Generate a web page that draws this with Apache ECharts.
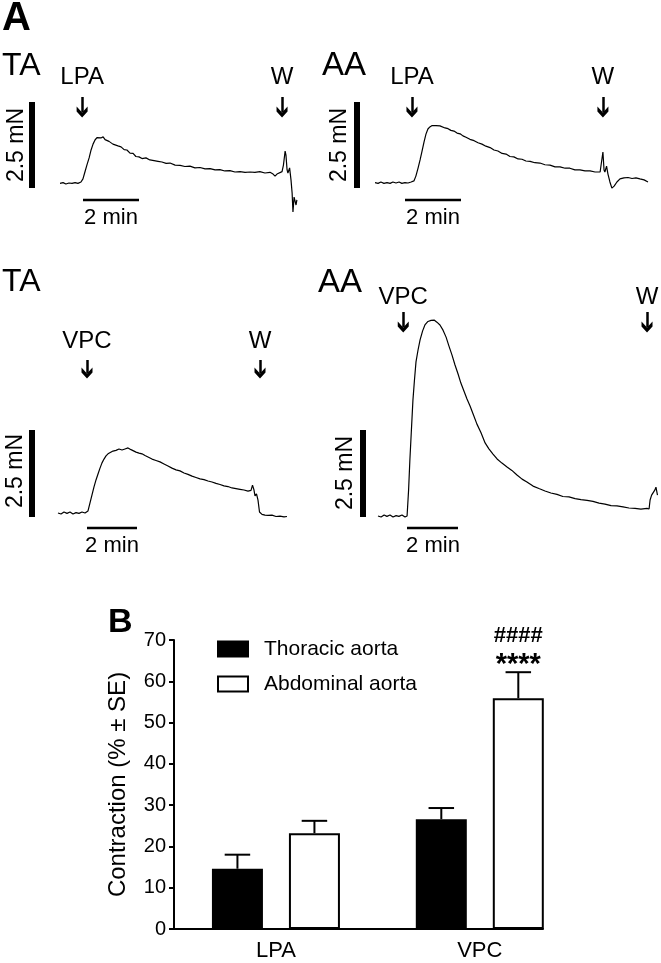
<!DOCTYPE html>
<html><head><meta charset="utf-8">
<script src="https://cdn.jsdelivr.net/npm/echarts@6/dist/echarts.min.js"></script>
<style>html,body{margin:0;padding:0;background:#fff}#c{width:661px;height:963px}</style>
</head><body><div id="c"></div>
<script>
// ================= DATA =================
// Panel A traces: [time (min), force (mN)] relative to trace start / baseline
const traceTA_LPA = [[0.00,-0.01],[0.11,0.01],[0.21,-0.03],[0.32,0.00],[0.43,-0.01],[0.54,0.01],[0.64,-0.01],[0.75,0.03],[0.82,0.12],[0.89,0.32],[0.96,0.52],[1.04,0.73],[1.11,0.96],[1.18,1.13],[1.25,1.25],[1.32,1.32],[1.39,1.35],[1.46,1.31],[1.54,1.34],[1.61,1.26],[1.68,1.28],[1.75,1.21],[1.82,1.22],[1.89,1.13],[1.96,1.15],[2.07,1.08],[2.18,1.05],[2.29,0.97],[2.39,0.96],[2.50,0.87],[2.61,0.86],[2.71,0.77],[2.82,0.76],[2.93,0.71],[3.07,0.73],[3.21,0.67],[3.36,0.65],[3.50,0.63],[3.64,0.61],[3.79,0.57],[3.93,0.58],[4.11,0.52],[4.29,0.51],[4.46,0.48],[4.64,0.49],[4.82,0.44],[5.00,0.45],[5.18,0.41],[5.36,0.42],[5.54,0.38],[5.71,0.39],[5.89,0.35],[6.07,0.36],[6.25,0.32],[6.43,0.33],[6.61,0.31],[6.79,0.32],[6.96,0.31],[7.14,0.33],[7.32,0.29],[7.50,0.31],[7.61,0.26],[7.68,0.20],[7.75,0.26],[7.82,0.31],[7.93,0.33],[7.98,0.52],[8.04,0.93],[8.07,0.81],[8.11,0.38],[8.14,0.29],[8.20,0.44],[8.25,0.09],[8.29,-0.29],[8.32,-0.84],[8.36,-0.41],[8.39,-0.38],[8.43,-0.64],[8.46,-0.49]];
const traceAA_LPA = [[0,0.01],[0.11,-0.01],[0.21,0.03],[0.32,-0.01],[0.43,0.01],[0.54,-0.01],[0.64,0.03],[0.75,0],[0.86,0.03],[0.96,-0.01],[1.07,0.01],[1.18,0],[1.29,0.03],[1.39,0.06],[1.46,0.20],[1.54,0.44],[1.61,0.67],[1.68,0.93],[1.75,1.19],[1.82,1.42],[1.89,1.57],[1.96,1.63],[2.04,1.67],[2.11,1.69],[2.18,1.67],[2.25,1.69],[2.32,1.66],[2.39,1.65],[2.50,1.60],[2.61,1.58],[2.71,1.53],[2.82,1.51],[2.93,1.45],[3.04,1.43],[3.14,1.37],[3.25,1.33],[3.39,1.27],[3.54,1.23],[3.68,1.17],[3.82,1.13],[3.96,1.07],[4.11,1.03],[4.25,0.96],[4.39,0.93],[4.54,0.86],[4.68,0.84],[4.82,0.77],[4.96,0.76],[5.11,0.70],[5.25,0.69],[5.39,0.64],[5.54,0.63],[5.71,0.59],[5.89,0.58],[6.07,0.53],[6.25,0.52],[6.43,0.47],[6.61,0.47],[6.79,0.43],[6.96,0.43],[7.14,0.38],[7.32,0.38],[7.50,0.35],[7.68,0.35],[7.86,0.32],[8.04,0.32],[8.11,0.35],[8.14,0.90],[8.18,0.38],[8.21,0.32],[8.27,0.49],[8.32,0.26],[8.39,0.03],[8.46,-0.15],[8.54,-0.09],[8.64,0.03],[8.75,0.12],[8.89,0.15],[9.04,0.16],[9.18,0.13],[9.32,0.15],[9.46,0.12],[9.61,0.09],[9.75,0.03]];
const traceTA_VPC = [[0,0],[0.12,-0.03],[0.24,0.03],[0.36,-0.01],[0.48,0.03],[0.60,-0.03],[0.72,0.01],[0.84,-0.01],[0.96,0.03],[1.08,0],[1.20,0.06],[1.28,0.29],[1.36,0.52],[1.44,0.75],[1.52,0.95],[1.60,1.12],[1.68,1.29],[1.76,1.44],[1.84,1.55],[1.92,1.64],[2.00,1.70],[2.08,1.74],[2.20,1.78],[2.32,1.80],[2.44,1.84],[2.56,1.81],[2.68,1.84],[2.80,1.87],[2.92,1.82],[3.00,1.81],[3.12,1.75],[3.24,1.72],[3.36,1.70],[3.48,1.65],[3.60,1.61],[3.76,1.55],[3.92,1.51],[4.08,1.47],[4.24,1.41],[4.40,1.35],[4.56,1.29],[4.72,1.24],[4.88,1.21],[5.04,1.15],[5.20,1.11],[5.36,1.06],[5.52,1.02],[5.68,0.98],[5.84,0.96],[6.00,0.92],[6.16,0.89],[6.32,0.85],[6.48,0.82],[6.64,0.78],[6.80,0.76],[6.96,0.72],[7.12,0.70],[7.28,0.68],[7.44,0.66],[7.60,0.63],[7.72,0.65],[7.78,0.80],[7.84,0.66],[7.88,0.49],[7.94,0.55],[8.00,0.37],[8.06,0.03],[8.16,-0.04],[8.28,-0.06],[8.40,-0.07],[8.56,-0.06],[8.72,-0.10],[8.88,-0.09],[9.04,-0.11],[9.16,-0.10]];
const traceAA_VPC = [[0,0],[0.12,-0.03],[0.24,0.03],[0.35,-0.01],[0.47,0.03],[0.59,-0.03],[0.71,0.01],[0.82,-0.01],[0.94,0.03],[1.06,-0.03],[1.14,0],[1.20,0.75],[1.25,1.61],[1.31,2.47],[1.37,3.33],[1.43,3.91],[1.49,4.43],[1.57,4.77],[1.65,5.06],[1.75,5.32],[1.84,5.49],[1.96,5.59],[2.08,5.62],[2.20,5.63],[2.31,5.57],[2.43,5.49],[2.55,5.34],[2.67,5.14],[2.78,4.89],[2.90,4.63],[3.02,4.34],[3.14,4.08],[3.25,3.82],[3.37,3.59],[3.49,3.36],[3.61,3.16],[3.73,2.93],[3.88,2.64],[4.04,2.39],[4.20,2.10],[4.35,1.93],[4.51,1.78],[4.67,1.64],[4.86,1.52],[5.06,1.41],[5.25,1.31],[5.45,1.18],[5.65,1.06],[5.84,0.98],[6.08,0.86],[6.31,0.79],[6.55,0.72],[6.78,0.66],[7.02,0.62],[7.25,0.56],[7.49,0.55],[7.73,0.50],[7.96,0.47],[8.20,0.45],[8.43,0.42],[8.67,0.37],[8.90,0.34],[9.14,0.30],[9.37,0.29],[9.61,0.26],[9.84,0.23],[10.08,0.22],[10.31,0.20],[10.55,0.22],[10.63,0.20],[10.67,0.46],[10.73,0.60],[10.78,0.55],[10.86,0.75],[10.90,0.83],[10.96,0.60]];

// drug additions (min)
const eventsTA_LPA = [{name:'LPA', t:0.79}, {name:'W', t:7.93}];
const eventsAA_LPA = [{name:'LPA', t:1.32}, {name:'W', t:8.14}];
const eventsTA_VPC = [{name:'VPC', t:1.16}, {name:'W', t:8.08}];
const eventsAA_VPC = [{name:'VPC', t:0.99}, {name:'W', t:10.55}];
const panelTitles = ['TA', 'AA', 'TA', 'AA'];
const scaleForce = 2.5;   // mN
const scaleTime = 2;      // min

// Panel B
const categories = ['LPA', 'VPC'];
const seriesNames = ['Thoracic aorta', 'Abdominal aorta'];
const thoracicMean = [14.6, 26.6];
const thoracicSE = [3.4, 2.7];
const abdominalMean = [23.2, 55.9];
const abdominalSE = [3.0, 6.3];
const abdominalHash = ['', '####'];
const abdominalStars = ['', '****'];

// ================= LAYOUT =================
const FONT = '"Liberation Sans", Arial, Helvetica, sans-serif';
const layouts = [
  {left:10, top:60, width:295, height:170, x0:60, y0:183, pxMin:28, pxMN:34.4, vBarX:32, vBarBottom:188, hBarY:200, hBarX:83, arrowTop:97, arrowEnd:112, labelY:77.5},
  {left:325, top:60, width:330, height:170, x0:375, y0:183, pxMin:28, pxMN:34.4, vBarX:357, vBarBottom:188, hBarY:200, hBarX:405, arrowTop:97, arrowEnd:112, labelY:77.5},
  {left:10, top:300, width:290, height:260, x0:58, y0:513, pxMin:25, pxMN:34.8, vBarX:32, vBarBottom:517, hBarY:528, hBarX:87, arrowTop:360, arrowEnd:373, labelY:341.5},
  {left:320, top:280, width:340, height:280, x0:378, y0:516, pxMin:25.5, pxMN:34.8, vBarX:363, vBarBottom:517, hBarY:528, hBarX:407, arrowTop:312, arrowEnd:327, labelY:297.5}
];
const traces = [traceTA_LPA, traceAA_LPA, traceTA_VPC, traceAA_VPC];
const eventSets = [eventsTA_LPA, eventsAA_LPA, eventsTA_VPC, eventsAA_VPC];
const CHEVRON = 'path://M5,0 L10,5.2 L10,9.6 L5,4.4 L0,9.6 L0,5.2 Z';

const grids = [], xAxes = [], yAxes = [], series = [];
layouts.forEach((L, i) => {
  grids.push({left:L.left, top:L.top, width:L.width, height:L.height});
  xAxes.push({type:'value', gridIndex:i, show:false, min:(L.left - L.x0) / L.pxMin, max:(L.left + L.width - L.x0) / L.pxMin});
  yAxes.push({type:'value', gridIndex:i, show:false, min:(L.y0 - L.top - L.height) / L.pxMN, max:(L.y0 - L.top) / L.pxMN});
  const tOf = px => (px - L.x0) / L.pxMin;
  const fOf = py => (L.y0 - py) / L.pxMN;
  series.push({
    type:'line', xAxisIndex:i, yAxisIndex:i, data:traces[i], symbol:'none', showSymbol:false,
    lineStyle:{color:'#000', width:1.2}, silent:true, animation:false, emphasis:{disabled:true},
    markLine:{
      silent:true, animation:false, symbol:['none', CHEVRON], symbolSize:11,
      lineStyle:{color:'#000', width:2.5, type:'solid'}, itemStyle:{color:'#000'}, label:{show:false}, emphasis:{disabled:true},
      data: eventSets[i].map(e => [{coord:[e.t, fOf(L.arrowTop)]}, {coord:[e.t, fOf(L.arrowEnd)]}])
    },
    markPoint:{
      silent:true, animation:false, symbol:'circle', symbolSize:1, itemStyle:{color:'rgba(0,0,0,0)'},
      label:{show:true, position:'inside', formatter:'{b}', color:'#000', fontSize:24, fontFamily:FONT},
      data: eventSets[i].map(e => ({name:e.name, coord:[e.t, fOf(L.labelY)]}))
    }
  });
  // scale bars
  const vx = tOf(L.vBarX), vb = fOf(L.vBarBottom);
  series.push({type:'line', xAxisIndex:i, yAxisIndex:i, symbol:'none', silent:true, animation:false,
    lineStyle:{color:'#000', width:6, cap:'butt'}, data:[[vx, vb], [vx, vb + scaleForce]]});
  const hx = tOf(L.hBarX), hy = fOf(L.hBarY);
  series.push({type:'line', xAxisIndex:i, yAxisIndex:i, symbol:'none', silent:true, animation:false,
    lineStyle:{color:'#000', width:2.5, cap:'butt'}, data:[[hx, hy], [hx + scaleTime, hy]]});
});

// Panel B
const BAR_W = 51, BAR_GAP = 26;
grids.push({left:174, top:640, width:369, height:289});
xAxes.push({type:'value', gridIndex:4, min:0, max:1.81, interval:0.5,
  axisLine:{show:true, onZero:false, lineStyle:{color:'#000', width:2}}, axisTick:{show:false}, splitLine:{show:false},
  axisLabel:{color:'#000', fontSize:22, fontFamily:FONT, margin:11, hideOverlap:false,
    formatter: v => { const k = Math.round(v - 0.5); return (Math.abs(v - (k + 0.5)) < 1e-6 && categories[k]) ? categories[k] : ''; }}});
yAxes.push({type:'value', gridIndex:4, min:0, max:70, interval:10,
  axisLine:{show:true, lineStyle:{color:'#000', width:2}},
  axisTick:{show:true, length:5, lineStyle:{color:'#000', width:2}}, splitLine:{show:false},
  axisLabel:{color:'#000', fontSize:20, fontFamily:FONT, margin:8},
  name:'Contraction (% ± SE)', nameLocation:'middle', nameRotate:90, nameGap:44,
  nameTextStyle:{color:'#000', fontSize:24, fontFamily:FONT}});
series.push({name:seriesNames[0], type:'bar', xAxisIndex:4, yAxisIndex:4, barWidth:BAR_W, barGap:(BAR_GAP / BAR_W * 100) + '%',
  data: thoracicMean.map((v, k) => [k + 0.5, v]), itemStyle:{color:'#000', borderColor:'#000', borderWidth:2}, silent:true, animation:false});
series.push({name:seriesNames[1], type:'bar', xAxisIndex:4, yAxisIndex:4, barWidth:BAR_W, barGap:(BAR_GAP / BAR_W * 100) + '%',
  data: abdominalMean.map((v, k) => [k + 0.5, v]), itemStyle:{color:'#fff', borderColor:'#000', borderWidth:2}, silent:true, animation:false});
const errData = [], errNotes = [];
categories.forEach((c, k) => {
  errData.push([k + 0.5, thoracicMean[k], thoracicSE[k], 0]); errNotes.push(['', '']);
  errData.push([k + 0.5, abdominalMean[k], abdominalSE[k], 1]); errNotes.push([abdominalHash[k], abdominalStars[k]]);
});
series.push({type:'custom', xAxisIndex:4, yAxisIndex:4, data:errData, encode:{x:0, y:1}, silent:true, animation:false, z:5, clip:false,
  renderItem:(params, api) => {
    const x = api.value(0), m = api.value(1), se = api.value(2), s = api.value(3);
    const base = api.coord([x, m]), top = api.coord([x, m + se]);
    const cx = base[0] + (s === 0 ? -1 : 1) * (BAR_W + BAR_GAP) / 2;
    const children = [
      {type:'line', shape:{x1:cx, y1:base[1], x2:cx, y2:top[1]}, style:{stroke:'#000', lineWidth:2}},
      {type:'line', shape:{x1:cx - BAR_W / 4, y1:top[1], x2:cx + BAR_W / 4, y2:top[1]}, style:{stroke:'#000', lineWidth:2}}
    ];
    const notes = errNotes[params.dataIndex];
    if (notes[0]) children.push({type:'text', style:{text:notes[0], x:cx, y:top[1] - 36, align:'center', verticalAlign:'middle', textAlign:'center', textVerticalAlign:'middle', fill:'#000', font:'bold 22px ' + FONT}});
    if (notes[1]) children.push({type:'text', style:{text:notes[1], x:cx, y:top[1] - 7, align:'center', verticalAlign:'middle', textAlign:'center', textVerticalAlign:'middle', fill:'#000', font:'bold 29px ' + FONT}});
    return {type:'group', children};
  }});

// Text annotations
const txt = (text, x, y, size, opts) => Object.assign({type:'text', x, y, silent:true, z:100,
  style:{text, fill:'#000', font:((opts && opts.bold) ? 'bold ' : '') + size + 'px ' + FONT,
    align:(opts && opts.align) || 'left', textAlign:(opts && opts.align) || 'left', verticalAlign:'middle', textVerticalAlign:'middle'}},
  (opts && opts.rot) ? {rotation:opts.rot} : {});
const graphics = [
  txt('A', 2, 19, 40, {bold:true}),
  txt(panelTitles[0], 2, 66, 32), txt(panelTitles[1], 322, 66, 33),
  txt(panelTitles[2], 2, 282, 32), txt(panelTitles[3], 318, 283, 33),
  txt('B', 108, 623, 34, {bold:true}),
  txt('2.5 mN', 16.5, 145, 23, {align:'center', rot:Math.PI / 2}),
  txt('2.5 mN', 340, 145, 23, {align:'center', rot:Math.PI / 2}),
  txt('2.5 mN', 16, 471, 23, {align:'center', rot:Math.PI / 2}),
  txt('2.5 mN', 346, 473, 23, {align:'center', rot:Math.PI / 2}),
  txt('2 min', 111, 218, 22, {align:'center'}),
  txt('2 min', 433, 218, 22, {align:'center'}),
  txt('2 min', 112, 546, 22, {align:'center'}),
  txt('2 min', 433, 546, 22, {align:'center'})
];

const chart = echarts.init(document.getElementById('c'), null, {renderer:'canvas'});
chart.setOption({
  animation:false,
  backgroundColor:'#fff',
  textStyle:{fontFamily:FONT},
  grid: grids.map(g => Object.assign({outerBoundsMode:'none', containLabel:false}, g)),
  xAxis: xAxes, yAxis: yAxes,
  legend:{show:true, orient:'vertical', left:217, top:638.5, padding:0, itemWidth:30, itemHeight:15, itemGap:14,
    icon:'rect', selectedMode:false, data:seriesNames,
    textStyle:{color:'#000', fontSize:21, fontFamily:FONT, padding:[0, 0, 0, 11]}},
  tooltip:{show:false},
  series,
  graphic:{elements:graphics}
});
</script>
</body></html>
